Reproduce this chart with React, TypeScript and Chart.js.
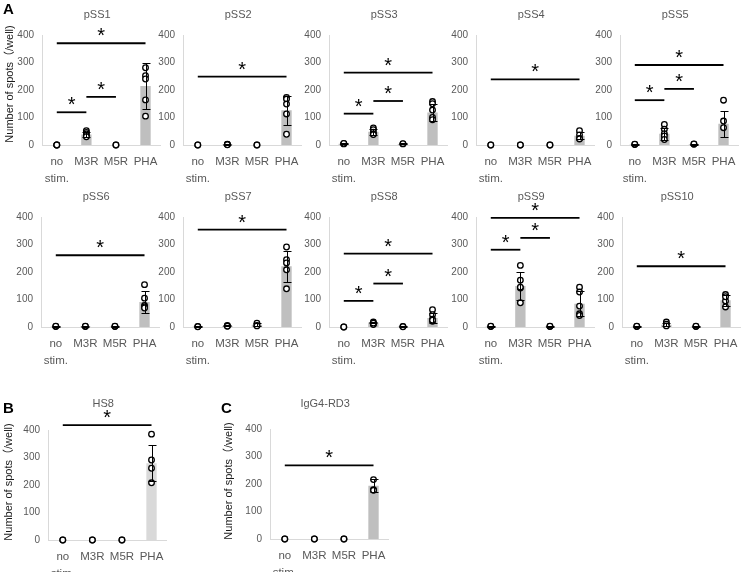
import React, { useEffect, useRef } from 'react';
import { Chart, registerables } from 'chart.js';
Chart.register(...registerables);

// ---------- DATA ----------
const categories = ['no stim.', 'M3R', 'M5R', 'PHA'];
const yTicks = [0, 100, 200, 300, 400];
const panelNames = ['pSS1', 'pSS2', 'pSS3', 'pSS4', 'pSS5', 'pSS6', 'pSS7', 'pSS8', 'pSS9', 'pSS10', 'HS8', 'IgG4-RD3'];
const panelLetters = ['A', 'B', 'C'];
const yAxisTitle = 'Number of spots（/well)';

// bar heights (mean) per panel, per category
const barMeans = [
  [0, 38, 0, 215],
  [0, 2, 0, 126],
  [5, 48, 4, 118],
  [0, 0, 0, 34],
  [2, 41, 3, 77],
  [2, 2, 2, 91],
  [2, 4, 8, 221],
  [0, 16, 2, 33],
  [2, 149, 2, 85],
  [2, 8, 2, 97],
  [0, 0, 0, 279],
  [0, 0, 0, 194],
];
// SD error bars
const barSDs = [
  [0, 8, 0, 83],
  [0, 1, 0, 53],
  [2, 10, 2, 30],
  [0, 0, 0, 12],
  [1, 22, 2, 48],
  [1, 1, 1, 40],
  [1, 2, 5, 56],
  [0, 3, 1, 18],
  [1, 51, 1, 45],
  [1, 6, 1, 21],
  [0, 0, 0, 66],
  [0, 0, 0, 24],
];
// individual wells
const spotPoints = [
  [[0, 0, 0], [52, 46, 40, 35, 30], [0, 0], [281, 252, 240, 164, 105]],
  [[0, 0], [2, 3, 1], [0, 0], [173, 167, 149, 113, 39]],
  [[5, 4, 6], [62, 56, 47, 40, 38], [4, 5], [158, 150, 127, 100, 92]],
  [[0, 0], [0, 0], [0, 0], [52, 37, 24, 22]],
  [[2, 3], [75, 57, 41, 33, 20], [3, 4], [163, 87, 63]],
  [[2, 3], [2, 3], [2, 3], [154, 105, 78, 73, 69]],
  [[2, 1], [4, 6, 3], [14, 6, 4], [291, 245, 233, 208, 139]],
  [[0, 0], [18, 12, 9, 14], [2, 1], [63, 45, 28, 21, 25]],
  [[2, 3], [224, 170, 142, 145, 88], [2, 3], [145, 127, 76, 48, 42]],
  [[2, 3], [18, 10, 4], [2, 3], [118, 95, 73, 110]],
  [[0, 0], [0, 0], [0, 0], [385, 291, 261, 208]],
  [[0, 0], [0, 0], [0, 0], [216, 179, 177]],
];
// significance brackets: [fromCategory, toCategory, yLevel]
const sigBrackets = [
  [[0, 3, 370], [0, 1, 119], [1, 2, 175]],
  [[0, 3, 249]],
  [[0, 3, 263], [0, 1, 114], [1, 2, 160]],
  [[0, 3, 239]],
  [[0, 3, 291], [0, 1, 163], [1, 2, 204]],
  [[0, 3, 261]],
  [[0, 3, 354]],
  [[0, 3, 267], [0, 1, 95], [1, 2, 158]],
  [[0, 3, 397], [0, 1, 281], [1, 2, 324]],
  [[0, 3, 221]],
  [[0, 3, 418]],
  [[0, 3, 268]],
];

// ---------- LAYOUT / STYLE ----------
const FONT = '"Liberation Sans", Arial, "Noto Sans CJK JP", sans-serif';
const PLOT_W = 120;
const PLOT_H = 110;
const X_H = 48;
const PAD_R = 4;
const CAP = 4;

type Layout = {
  left: number; top: number; yw: number; padTop: number; titleY: number;
  yTitle?: { x: number; dy: number }; barColor: string;
};

const layouts: Layout[] = [
  { left: 0, top: 0, yw: 42, padTop: 35, titleY: 15, yTitle: { x: 10, dy: -6 }, barColor: '#bfbfbf' },
  { left: 143, top: 0, yw: 40, padTop: 35, titleY: 15, barColor: '#bfbfbf' },
  { left: 289, top: 0, yw: 40, padTop: 35, titleY: 15, barColor: '#bfbfbf' },
  { left: 436, top: 0, yw: 40, padTop: 35, titleY: 15, barColor: '#bfbfbf' },
  { left: 580, top: 0, yw: 40, padTop: 35, titleY: 15, barColor: '#bfbfbf' },
  { left: 1, top: 180, yw: 40, padTop: 37, titleY: 17, barColor: '#bfbfbf' },
  { left: 143, top: 180, yw: 40, padTop: 37, titleY: 17, barColor: '#bfbfbf' },
  { left: 289, top: 180, yw: 40, padTop: 37, titleY: 17, barColor: '#bfbfbf' },
  { left: 436, top: 180, yw: 40, padTop: 37, titleY: 17, barColor: '#bfbfbf' },
  { left: 582, top: 180, yw: 40, padTop: 37, titleY: 17, barColor: '#bfbfbf' },
  { left: 0, top: 390, yw: 48, padTop: 40, titleY: 14, yTitle: { x: 9, dy: -3 }, barColor: '#d9d9d9' },
  { left: 220, top: 390, yw: 50, padTop: 39, titleY: 14, yTitle: { x: 9, dy: -3 }, barColor: '#bfbfbf' },
];

const letterPos = [
  { x: 3, y: 1 },
  { x: 3, y: 400 },
  { x: 221, y: 400 },
];

function Panel({ idx }: { idx: number }) {
  const ref = useRef<HTMLCanvasElement>(null);
  const L = layouts[idx];
  const width = L.yw + PLOT_W + PAD_R;
  const height = L.padTop + PLOT_H + X_H;

  useEffect(() => {
    if (!ref.current) return;
    const means = barMeans[idx];
    const sds = barSDs[idx];
    const pts = spotPoints[idx];
    const brs = sigBrackets[idx];
    const pointData = pts.flatMap((arr, ci) => arr.map((v) => ({ x: categories[ci], y: v })));

    const overlay = {
      id: 'overlay' + idx,
      afterDatasetsDraw(chart: any) {
        const ctx = chart.ctx as CanvasRenderingContext2D;
        const xs = chart.scales.x;
        const ys = chart.scales.y;
        ctx.save();
        // error bars
        ctx.strokeStyle = '#000';
        ctx.lineWidth = 1;
        sds.forEach((sd, i) => {
          if (!sd) return;
          const x = Math.round(xs.getPixelForValue(i)) + 0.5;
          const y1 = Math.round(ys.getPixelForValue(means[i] + sd)) + 0.5;
          const y2 = Math.round(ys.getPixelForValue(Math.max(0, means[i] - sd))) + 0.5;
          ctx.beginPath();
          ctx.moveTo(x, y1); ctx.lineTo(x, y2);
          ctx.moveTo(x - CAP, y1); ctx.lineTo(x + CAP, y1);
          ctx.moveTo(x - CAP, y2); ctx.lineTo(x + CAP, y2);
          ctx.stroke();
        });
        // brackets
        ctx.lineWidth = 1.8;
        ctx.fillStyle = '#000';
        ctx.font = `20px ${FONT}`;
        ctx.textAlign = 'center';
        ctx.textBaseline = 'alphabetic';
        brs.forEach(([a, b, lvl]) => {
          const xa = xs.getPixelForValue(a);
          const xb = xs.getPixelForValue(b);
          const y = ys.getPixelForValue(lvl);
          ctx.beginPath();
          ctx.moveTo(xa, y); ctx.lineTo(xb, y);
          ctx.stroke();
          ctx.fillText('*', (xa + xb) / 2, y - 1);
        });
        // panel title
        const ca = chart.chartArea;
        ctx.fillStyle = '#595959';
        ctx.font = `11px ${FONT}`;
        ctx.textBaseline = 'middle';
        ctx.fillText(panelNames[idx], (ca.left + ca.right) / 2 - 4, L.titleY);
        // y axis title
        if (L.yTitle) {
          ctx.save();
          ctx.translate(L.yTitle.x, (ca.top + ca.bottom) / 2 + L.yTitle.dy);
          ctx.rotate(-Math.PI / 2);
          ctx.fillStyle = '#1a1a1a';
          ctx.font = `11px ${FONT}`;
          ctx.textAlign = 'center';
          ctx.textBaseline = 'middle';
          ctx.fillText(yAxisTitle, 0, 0);
          ctx.restore();
        }
        ctx.restore();
      },
    };

    const chart = new Chart(ref.current, {
      type: 'bar',
      data: {
        labels: categories,
        datasets: [
          {
            type: 'line',
            data: pointData as any,
            showLine: false,
            pointRadius: 2.8,
            pointBorderWidth: 1.3,
            pointBorderColor: '#000',
            pointBackgroundColor: '#fff',
            borderColor: '#000',
            backgroundColor: '#fff',
            order: 0,
            clip: false as any,
          } as any,
          {
            type: 'bar',
            data: means,
            backgroundColor: L.barColor,
            barPercentage: 0.35,
            categoryPercentage: 1,
            order: 1,
          } as any,
        ],
      },
      options: {
        responsive: false,
        animation: false,
        events: [],
        layout: { padding: { top: L.padTop, right: PAD_R, left: 0, bottom: 0 } },
        plugins: { legend: { display: false }, tooltip: { enabled: false }, title: { display: false } },
        scales: {
          x: {
            type: 'category',
            offset: true,
            grid: { display: false, drawTicks: false },
            border: { display: true, color: '#d9d9d9', width: 1 },
            ticks: {
              color: '#595959',
              font: { family: FONT, size: 11.5, lineHeight: 1.5 },
              padding: 8,
              maxRotation: 0,
              autoSkip: false,
              callback: function (this: any, v: any) {
                const l = this.getLabelForValue(v) as string;
                return l.includes(' ') ? l.split(' ') : l;
              },
            },
            afterFit: (s: any) => { s.height = X_H; },
          },
          y: {
            min: yTicks[0],
            max: yTicks[yTicks.length - 1],
            grid: { display: false, drawTicks: false },
            border: { display: true, color: '#d9d9d9', width: 1 },
            ticks: {
              stepSize: yTicks[1] - yTicks[0],
              color: '#595959',
              font: { family: FONT, size: 10 },
              padding: 8,
            },
            afterFit: (s: any) => { s.width = L.yw; },
          },
        },
      } as any,
      plugins: [overlay],
    });
    return () => chart.destroy();
  }, [idx]);

  return (
    <canvas
      ref={ref}
      width={width}
      height={height}
      style={{ position: 'absolute', left: L.left, top: L.top, width, height }}
    />
  );
}

export default function App() {
  return (
    <div
      style={{
        position: 'absolute', left: 0, top: 0, width: 742, height: 572,
        overflow: 'hidden', background: '#fff',
      }}
    >
      {panelNames.map((n, i) => (
        <Panel key={n} idx={i} />
      ))}
      {panelLetters.map((l, i) => (
        <div
          key={l}
          style={{
            position: 'absolute', left: letterPos[i].x, top: letterPos[i].y,
            font: `bold 15px ${FONT}`, lineHeight: '15px', color: '#000',
          }}
        >
          {l}
        </div>
      ))}
    </div>
  );
}
